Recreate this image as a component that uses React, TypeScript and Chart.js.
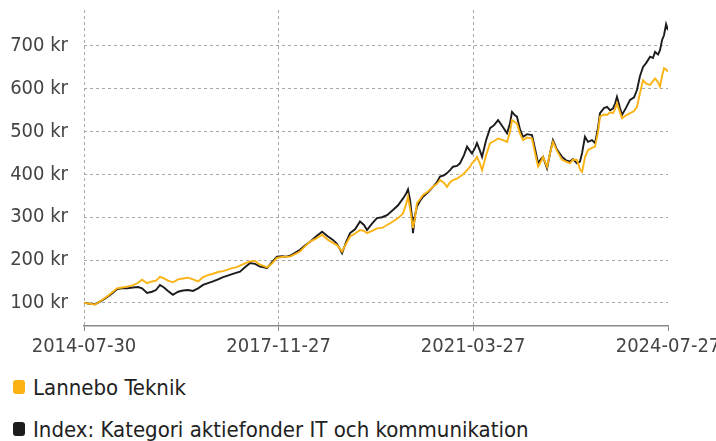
import React, { useEffect, useRef } from "react";
import { Chart, registerables } from "chart.js";

Chart.register(...registerables);

const startDate = "2014-07-30";
const tickLabels = ["2014-07-30", "2017-11-27", "2021-03-27", "2024-07-27"];
const yTickValues = [100, 200, 300, 400, 500, 600, 700];
const seriesNames = ["Lannebo Teknik", "Index: Kategori aktiefonder IT och kommunikation"];

// days since startDate
const dayOffsets = [
  0, 38, 69, 106, 144, 175, 206, 238, 269, 306, 338, 363, 394, 425, 450, 475, 500, 525, 556, 588,
  619, 650, 681, 713, 744, 775, 806, 838, 869, 894, 925, 950, 975, 1006, 1038, 1069, 1100, 1125, 1144, 1175,
  1206, 1238, 1263, 1288, 1319, 1350, 1381, 1413, 1450, 1488, 1525, 1556, 1581, 1613, 1638, 1663, 1694, 1725, 1750, 1769,
  1800, 1831, 1863, 1894, 1931, 1963, 1994, 2013, 2025, 2038, 2050, 2056, 2069, 2081, 2100, 2119, 2150, 2181, 2206, 2225,
  2250, 2269, 2288, 2306, 2331, 2350, 2375, 2394, 2413, 2425, 2444, 2456, 2475, 2488, 2513, 2538, 2563, 2588, 2619, 2644,
  2663, 2675, 2694, 2706, 2725, 2744, 2769, 2800, 2819, 2838, 2856, 2869, 2881, 2894, 2913, 2931, 2956, 2988, 3013, 3038,
  3056, 3081, 3100, 3113, 3131, 3150, 3175, 3194, 3213, 3225, 3250, 3269, 3288, 3306, 3319, 3331, 3350, 3363, 3388, 3413,
  3438, 3456, 3475, 3494, 3513, 3538, 3556, 3569, 3588, 3600, 3613, 3625, 3638, 3650,
];

const lanneboValues = [
  100, 98, 96, 105, 115, 124, 134, 136, 138, 141, 147, 154, 146, 150, 152, 161, 157, 152, 148, 155,
  157, 159, 155, 150, 160, 165, 168, 172, 174, 177, 181, 183, 187, 192, 197, 198, 189, 186, 183, 192,
  205, 207, 208, 208, 214, 220, 232, 243, 250, 259, 247, 240, 235, 220, 238, 255, 262, 270, 268, 263,
  268, 274, 275, 282, 290, 298, 309, 330, 348, 320, 290, 275, 300, 333, 342, 352, 360, 371, 378, 387,
  380, 371, 382, 387, 390, 395, 402, 410, 418, 426, 433, 441, 425, 410, 445, 473, 478, 484, 480, 476,
  500, 527, 522, 519, 495, 480, 486, 484, 450, 418, 430, 441, 430, 418, 450, 476, 455, 434, 430, 426,
  435, 434, 412, 406, 440, 457, 462, 465, 500, 535, 540, 539, 545, 543, 552, 566, 545, 531, 538, 543,
  548, 558, 590, 620, 612, 609, 618, 624, 615, 605, 630, 648, 645, 640,
];

const indexValues = [
  100, 98, 97, 104, 113, 122, 132, 134, 134, 136, 137, 134, 123, 126, 130, 142, 136, 128, 119, 126,
  129, 130, 128, 134, 142, 146, 150, 155, 160, 163, 167, 170, 173, 183, 193, 191, 185, 183, 181, 195,
  208, 209, 208, 210, 217, 224, 234, 243, 255, 266, 255, 247, 238, 216, 242, 263, 272, 290, 282, 270,
  285, 298, 300, 305, 317, 328, 344, 355, 365, 340, 301, 263, 305, 325, 338, 348, 358, 371, 382, 395,
  398, 403, 410, 418, 420, 426, 445, 465, 455, 449, 462, 473, 455, 441, 480, 508, 515, 527, 510, 496,
  520, 546, 538, 535, 505, 488, 494, 492, 460, 426, 436, 441, 428, 414, 450, 480, 458, 441, 433, 430,
  436, 426, 430, 450, 488, 476, 480, 473, 510, 543, 555, 558, 550, 554, 565, 581, 555, 539, 556, 574,
  580, 597, 630, 651, 660, 675, 672, 686, 680, 690, 714, 725, 751, 737,
];

const FONT_FAMILY = "'DejaVu Sans Condensed', 'Liberation Sans Narrow', 'Roboto Condensed', sans-serif";
const YELLOW = "#FBB314";
const BLACK = "#1c1c1c";

const dayOf = (d: string) => Math.round((Date.parse(d) - Date.parse(startDate)) / 86400000);

export default function App() {
  const canvasRef = useRef<HTMLCanvasElement | null>(null);

  useEffect(() => {
    if (!canvasRef.current) return;
    const tickDays = tickLabels.map(dayOf);
    const chart = new Chart(canvasRef.current, {
      type: "line",
      data: {
        datasets: [
          {
            label: seriesNames[0],
            data: dayOffsets.map((d, i) => ({ x: d, y: lanneboValues[i] })),
            borderColor: YELLOW,
            backgroundColor: YELLOW,
            borderWidth: 1.9,
            pointRadius: 0,
            tension: 0,
          },
          {
            label: seriesNames[1],
            data: dayOffsets.map((d, i) => ({ x: d, y: indexValues[i] })),
            borderColor: BLACK,
            backgroundColor: BLACK,
            borderWidth: 1.9,
            pointRadius: 0,
            tension: 0,
          },
        ],
      },
      options: {
        animation: false,
        responsive: true,
        maintainAspectRatio: false,
        layout: { padding: { top: 10, right: 48, left: 0, bottom: 0 } },
        plugins: { legend: { display: false }, tooltip: { enabled: false } },
        scales: {
          x: {
            type: "linear",
            min: 0,
            max: tickDays[tickDays.length - 1],
            afterBuildTicks: (scale: any) => {
              scale.ticks = tickDays.map((v) => ({ value: v }));
            },
            afterFit: (scale: any) => {
              scale.height = 39;
              scale.paddingLeft = 0;
              scale.paddingRight = 0;
            },
            ticks: {
              autoSkip: false,
              maxRotation: 0,
              padding: 4,
              color: "#444",
              font: { family: FONT_FAMILY, size: 20 },
              callback: (_v: any, i: number) => tickLabels[i],
            },
            grid: {
              color: (ctx: any) => (ctx.index === tickLabels.length - 1 ? "rgba(0,0,0,0)" : "#a8a8a8"),
              lineWidth: 1,
              drawTicks: true,
              tickLength: 5,
              tickColor: "#8a8a8a",
              tickBorderDash: [],
            },
            border: { display: true, color: "#8a8a8a", width: 1.5, dash: [3, 3] },
          },
          y: {
            type: "linear",
            min: 46,
            max: 784,
            afterBuildTicks: (scale: any) => {
              scale.ticks = yTickValues.map((v) => ({ value: v }));
            },
            afterFit: (scale: any) => {
              scale.width = 84;
              scale.paddingTop = 0;
              scale.paddingBottom = 0;
            },
            ticks: {
              padding: 16,
              color: "#444",
              font: { family: FONT_FAMILY, size: 20 },
              callback: (v: any) => `${v} kr`,
            },
            grid: { color: "#a8a8a8", lineWidth: 1, drawTicks: false },
            border: { display: false, dash: [3, 3] },
          },
        },
      },
    });
    return () => chart.destroy();
  }, []);

  const legendRow = (color: string, text: string, top: number) => (
    <div
      style={{
        position: "absolute",
        left: 13,
        top,
        height: 24,
        display: "flex",
        alignItems: "center",
        fontFamily: FONT_FAMILY,
        fontSize: 22,
        color: "#222",
        whiteSpace: "nowrap",
      }}
    >
      <span
        style={{
          display: "inline-block",
          width: 12,
          height: 14,
          borderRadius: 3,
          background: color,
          marginRight: 8,
        }}
      />
      <span>{text}</span>
    </div>
  );

  return (
    <div style={{ position: "fixed", left: 0, top: 0, width: 716, height: 441, background: "#fff", overflow: "hidden" }}>
      <div style={{ position: "absolute", left: 0, top: 0, width: 716, height: 365 }}>
        <canvas ref={canvasRef} />
      </div>
      {legendRow(YELLOW, seriesNames[0], 375)}
      {legendRow(BLACK, seriesNames[1], 417)}
    </div>
  );
}
